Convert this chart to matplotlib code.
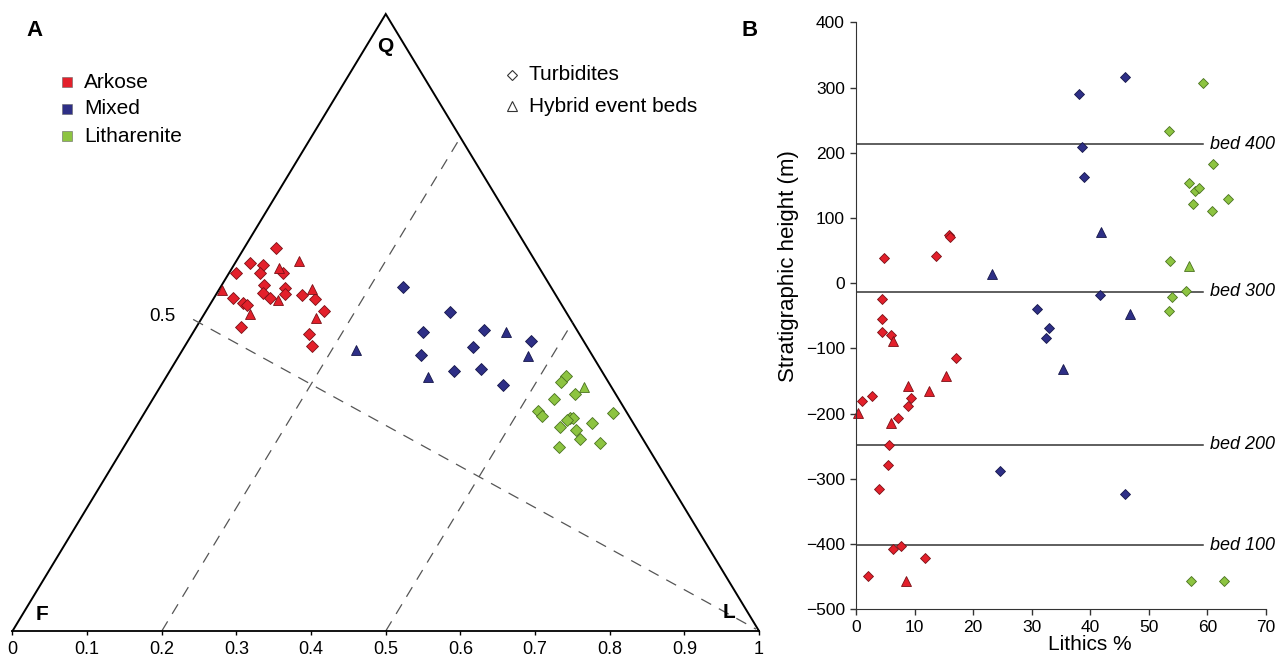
import matplotlib
matplotlib.use("Agg")
import matplotlib.pyplot as plt
import numpy as np

plt.rcParams['font.family'] = ['Liberation Sans', 'DejaVu Sans']

# ---------------- Panel A data (ternary QFL, percent Q and L; F = 100-Q-L) ----
arkose_turb_Q = [62.0, 59.7, 58.1, 59.3, 58.0, 58.1, 56.1, 55.6, 54.8, 53.9,
                 54.7, 53.9, 53.2, 52.8, 54.5, 53.8, 51.9, 49.2, 48.1, 46.2]
arkose_turb_L = [4.3, 1.9, 0.9, 3.9, 4.2, 7.2, 5.6, 8.7, 6.2, 7.5,
                 9.2, 2.6, 4.3, 5.0, 11.5, 13.6, 15.8, 6.0, 15.7, 17.0]
arkose_heb_Q = [59.9, 58.9, 55.2, 55.4, 53.6, 51.3, 50.7]
arkose_heb_L = [8.4, 6.3, 0.4, 12.4, 8.7, 6.2, 15.3]

mixed_turb_Q = [55.7, 51.7, 48.4, 48.8, 47.0, 46.1, 44.7, 42.2, 42.5, 39.8]
mixed_turb_L = [24.5, 32.8, 30.8, 38.8, 46.0, 38.6, 32.4, 38.0, 41.5, 45.8]
mixed_heb_Q = [48.5, 45.5, 44.6, 41.2]
mixed_heb_L = [41.8, 23.2, 46.7, 35.1]

lith_turb_Q = [41.3, 40.3, 37.6, 38.4, 35.7, 34.8, 35.3, 34.6, 34.6, 34.2,
               33.0, 33.7, 32.6, 31.1, 30.5, 29.9]
lith_turb_L = [53.5, 53.3, 53.8, 56.2, 52.6, 53.5, 62.8, 57.4, 57.8, 57.2,
               56.8, 60.8, 59.2, 60.5, 63.4, 58.3]
lith_heb_Q = [39.6]
lith_heb_L = [56.8]

ternary_ticks = [0, 0.1, 0.2, 0.3, 0.4, 0.5, 0.6, 0.7, 0.8, 0.9, 1]
ternary_ticklabels = ['0', '0.1', '0.2', '0.3', '0.4', '0.5', '0.6', '0.7', '0.8', '0.9', '1']

# ---------------- Panel B data (Lithics %, stratigraphic height m) -------------
ark_turb_x = [4.7, 13.6, 15.8, 16.0, 4.4, 4.4, 4.4, 6.0, 17.1, 2.7, 1.0, 9.4,
              8.8, 7.2, 5.6, 5.4, 4.0, 7.7, 6.4, 11.7, 2.1]
ark_turb_y = [39, 41, 74, 71, -24, -55, -75, -80, -115, -173, -181, -176,
              -189, -207, -248, -278, -316, -403, -408, -421, -449]
ark_heb_x = [6.4, 15.4, 8.8, 12.5, 0.3, 6.0, 8.5]
ark_heb_y = [-88, -143, -158, -165, -199, -214, -457]

mix_turb_x = [45.9, 38.0, 38.6, 39.0, 41.6, 30.9, 32.9, 32.5, 24.6, 46.0]
mix_turb_y = [316, 290, 209, 163, -18, -39, -69, -84, -288, -323]
mix_heb_x = [41.9, 23.3, 46.7, 35.3]
mix_heb_y = [78, 14, -48, -131]

lit_turb_x = [59.3, 53.4, 61.0, 56.8, 57.9, 58.5, 57.5, 60.8, 63.5, 53.6,
              53.9, 56.4, 53.4, 57.2, 62.9]
lit_turb_y = [307, 234, 183, 153, 142, 146, 121, 110, 129, 34,
              -21, -12, -43, -457, -457]
lit_heb_x = [56.8]
lit_heb_y = [26]

bed_names = ['bed 400', 'bed 300', 'bed 200', 'bed 100']
bed_heights = [213, -13, -248, -402]

RED, RED_E = '#e3202b', '#7a1016'
BLUE, BLUE_E = '#2e2f86', '#16174a'
GREEN, GREEN_E = '#8dc441', '#4a7220'

W, H = 1288, 656
fig = plt.figure(figsize=(W / 100, H / 100), dpi=100)

# ---------------- Panel A: ternary ----------------
axA = fig.add_axes([12.5 / W, 1 - 631 / H, 746.5 / W, 617 / H])
axA.set_xlim(0, 1)
axA.set_ylim(0, 1)
for s in ['top', 'right', 'left']:
    axA.spines[s].set_visible(False)
axA.spines['bottom'].set_linewidth(1.3)
axA.set_yticks([])
axA.set_xticks(ternary_ticks)
axA.set_xticklabels(ternary_ticklabels)
axA.tick_params(axis='x', direction='out', length=3, width=1, pad=4, labelsize=13)
axA.patch.set_alpha(0)

# triangle outline
axA.plot([0, 0.5, 1], [0, 1, 0], color='black', lw=1.4, clip_on=False, solid_joinstyle='miter')


def tern(Q, L):
    Q = np.asarray(Q) / 100.0
    L = np.asarray(L) / 100.0
    return L + Q / 2.0, Q


# dashed guide lines
dash = dict(color='#555555', lw=0.9, dashes=(9, 7))
axA.plot([0.2, 0.6], [0.0, 0.8], **dash)
axA.plot([0.5, 0.75], [0.0, 0.5], **dash)
axA.plot([0.242, 0.996], [0.505, 0.003], **dash)
axA.text(0.218, 0.51, '0.5', fontsize=13.5, ha='right', va='center')
axA.text(0.5, 0.948, 'Q', fontsize=15, fontweight='bold', ha='center', va='center')
axA.text(0.04, 0.027, 'F', fontsize=15, fontweight='bold', ha='center', va='center')
axA.text(0.96, 0.03, 'L', fontsize=15, fontweight='bold', ha='center', va='center')

mk_d = dict(marker='D', ms=6.4, mew=0.6, ls='none', clip_on=False)
mk_t = dict(marker='^', ms=7.8, mew=0.6, ls='none', clip_on=False)

for Q, L, c, e, mk in [
    (arkose_turb_Q, arkose_turb_L, RED, RED_E, mk_d),
    (arkose_heb_Q, arkose_heb_L, RED, RED_E, mk_t),
    (mixed_turb_Q, mixed_turb_L, BLUE, BLUE_E, mk_d),
    (mixed_heb_Q, mixed_heb_L, BLUE, BLUE_E, mk_t),
    (lith_turb_Q, lith_turb_L, GREEN, GREEN_E, mk_d),
    (lith_heb_Q, lith_heb_L, GREEN, GREEN_E, mk_t),
]:
    x, y = tern(Q, L)
    axA.plot(x, y, mfc=c, mec=e, **mk)

# ---------------- Panel B ----------------
axB = fig.add_axes([856 / W, 1 - 609.3 / H, 410 / W, 587 / H])
axB.set_xlim(0, 70)
axB.set_ylim(-500, 400)
axB.spines['top'].set_visible(False)
axB.spines['right'].set_visible(False)
axB.spines['left'].set_color('#333333')
axB.spines['bottom'].set_color('#333333')
axB.set_xticks(np.arange(0, 71, 10))
axB.set_yticks(np.arange(-500, 401, 100))
axB.tick_params(direction='out', length=4, width=1, labelsize=12.5, color='#333333')
axB.tick_params(axis='y', pad=4)
axB.tick_params(axis='x', pad=4)

for name, h in zip(bed_names, bed_heights):
    axB.plot([0, 59.3], [h, h], color='#333333', lw=1.1)
    axB.text(60.4, h, name, fontsize=13, style='italic', ha='left', va='center', clip_on=False)

mkd = dict(marker='D', ms=5.6, mew=0.6, ls='none', clip_on=False)
mkt = dict(marker='^', ms=7.0, mew=0.6, ls='none', clip_on=False)
for x, y, c, e, mk in [
    (ark_turb_x, ark_turb_y, RED, RED_E, mkd),
    (ark_heb_x, ark_heb_y, RED, RED_E, mkt),
    (mix_turb_x, mix_turb_y, BLUE, BLUE_E, mkd),
    (mix_heb_x, mix_heb_y, BLUE, BLUE_E, mkt),
    (lit_turb_x, lit_turb_y, GREEN, GREEN_E, mkd),
    (lit_heb_x, lit_heb_y, GREEN, GREEN_E, mkt),
]:
    axB.plot(x, y, mfc=c, mec=e, **mk)

# ---------------- overlay for labels / legends (pixel coordinates) ----------
ov = fig.add_axes([0, 0, 1, 1])
ov.set_xlim(0, W)
ov.set_ylim(H, 0)
ov.axis('off')
ov.patch.set_alpha(0)

ov.text(35, 31, 'A', fontsize=16, fontweight='bold', ha='center', va='center')
ov.text(750, 31, 'B', fontsize=16, fontweight='bold', ha='center', va='center')

leg_names = ['Arkose', 'Mixed', 'Litharenite']
leg_cols = [RED, BLUE, GREEN]
for i, (n, c) in enumerate(zip(leg_names, leg_cols)):
    yy = 82 + i * 27
    ov.plot([67], [yy], marker='s', ms=7, mfc=c, mec='#666666', mew=0.4, ls='none')
    ov.text(84, yy, n, fontsize=15, ha='left', va='center')

ov.plot([512], [75], marker='D', ms=5, mfc='white', mec='#333333', mew=0.8, ls='none')
ov.text(529, 74, 'Turbidites', fontsize=15, ha='left', va='center')
ov.plot([512], [106], marker='^', ms=6.5, mfc='white', mec='#333333', mew=0.8, ls='none')
ov.text(529, 106, 'Hybrid event beds', fontsize=15, ha='left', va='center')

ov.text(789, 266, 'Stratigraphic height (m)', fontsize=16, rotation=90, ha='center', va='center')
ov.text(1090, 644, 'Lithics %', fontsize=15, ha='center', va='center')

fig.savefig('out.png', dpi=100)
